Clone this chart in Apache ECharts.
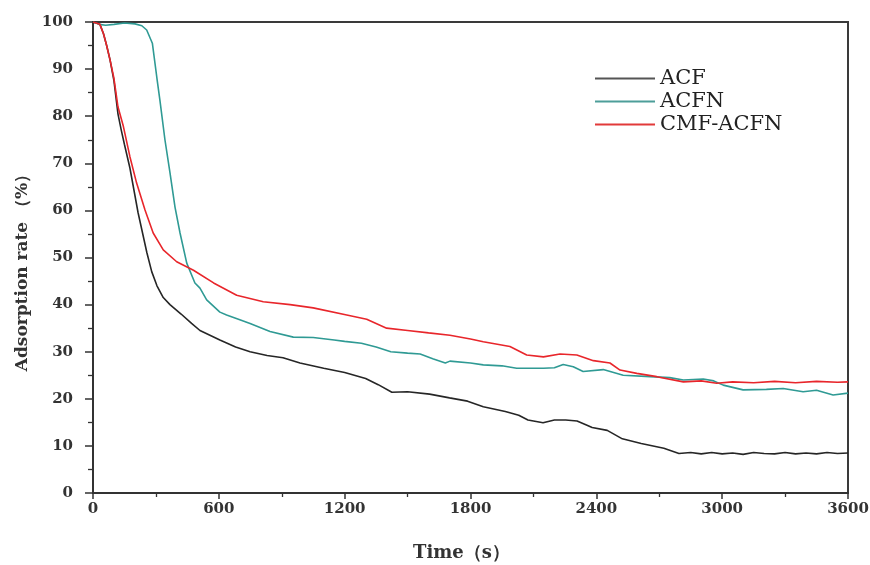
<!DOCTYPE html>
<html>
<head>
<meta charset="utf-8">
<script src="https://cdn.jsdelivr.net/npm/echarts@6/dist/echarts.min.js"></script>
<style>
  html, body { margin: 0; padding: 0; background: #fff; }
  #chart { width: 870px; height: 565px; }
</style>
</head>
<body>
<div id="chart"></div>
<script>
// 读图得到的数据 (time in s, adsorption rate in %)
var acfTime = [0, 33, 50, 65, 81, 100, 119, 135, 150, 176, 215, 257, 280, 305, 335, 367, 420, 470, 510, 605, 680, 749, 830, 906, 987, 1100, 1200, 1300, 1360, 1425, 1500, 1605, 1700, 1786, 1861, 1966, 2030, 2074, 2146, 2200, 2254, 2308, 2350, 2380, 2452, 2524, 2614, 2722, 2794, 2850, 2900, 2950, 3000, 3050, 3100, 3150, 3200, 3250, 3300, 3350, 3400, 3450, 3500, 3550, 3600];
var acfRate = [100, 99.5, 97.5, 95, 92, 87.5, 80.5, 77, 74, 69, 59.5, 51, 47, 44, 41.5, 40, 38, 36, 34.5, 32.5, 31, 30, 29.2, 28.7, 27.6, 26.5, 25.6, 24.3, 23, 21.4, 21.5, 21, 20.2, 19.5, 18.3, 17.3, 16.5, 15.5, 14.9, 15.5, 15.5, 15.3, 14.5, 13.9, 13.3, 11.5, 10.5, 9.5, 8.4, 8.6, 8.3, 8.6, 8.3, 8.5, 8.2, 8.6, 8.4, 8.3, 8.6, 8.3, 8.5, 8.3, 8.6, 8.4, 8.5];

var acfnTime = [0, 30, 60, 100, 150, 200, 233, 256, 283, 305, 319, 343, 367, 391, 415, 447, 486, 510, 542, 605, 637, 700, 749, 844, 955, 1050, 1150, 1200, 1280, 1350, 1420, 1500, 1560, 1620, 1680, 1702, 1800, 1861, 1950, 2020, 2148, 2200, 2242, 2290, 2337, 2433, 2528, 2656, 2750, 2815, 2910, 2960, 3005, 3100, 3211, 3291, 3386, 3450, 3529, 3600];
var acfnRate = [100, 99.5, 99.3, 99.5, 99.8, 99.6, 99.2, 98.3, 95.5, 88, 83.4, 75, 68, 60.7, 55.2, 48.8, 44.6, 43.5, 41, 38.4, 37.8, 36.8, 36, 34.3, 33.1, 33, 32.5, 32.2, 31.8, 31, 30, 29.7, 29.5, 28.5, 27.6, 28, 27.6, 27.2, 27, 26.5, 26.5, 26.6, 27.3, 26.8, 25.8, 26.2, 25, 24.7, 24.5, 24, 24.2, 23.8, 22.9, 21.9, 22, 22.2, 21.5, 21.8, 20.8, 21.2];

var cmfTime = [0, 33, 50, 65, 81, 100, 119, 145, 176, 208, 248, 287, 335, 399, 479, 575, 685, 812, 940, 1050, 1210, 1305, 1400, 1500, 1600, 1702, 1800, 1861, 1988, 2068, 2148, 2227, 2307, 2386, 2465, 2513, 2593, 2688, 2815, 2900, 2974, 3050, 3150, 3250, 3350, 3450, 3550, 3600];
var cmfRate = [100, 99.5, 97.5, 95, 92, 88, 82, 77.8, 71.4, 65.8, 60.1, 55.2, 51.6, 49.1, 47.3, 44.6, 42, 40.6, 40, 39.3, 37.8, 36.9, 35, 34.5, 34, 33.5, 32.7, 32.1, 31.1, 29.3, 28.9, 29.5, 29.3, 28.1, 27.6, 26.1, 25.4, 24.7, 23.6, 23.8, 23.3, 23.6, 23.4, 23.7, 23.4, 23.7, 23.5, 23.6];

var seriesNames = ['ACF', 'ACFN', 'CMF-ACFN'];
var xTicks = [0, 600, 1200, 1800, 2400, 3000, 3600];

function pairs(t, v) {
  var out = [];
  for (var i = 0; i < t.length; i++) out.push([t[i], v[i]]);
  return out;
}

var chart = echarts.init(document.getElementById('chart'), null, { renderer: 'canvas' });

var serif = '"DejaVu Serif", "Liberation Serif", serif';

var option = {
  backgroundColor: '#fff',
  animation: false,
  grid: {
    left: 93, right: 22, top: 22, bottom: 72,
    outerBoundsMode: 'none',
    containLabel: false,
    show: true,
    borderColor: '#3a3a3a',
    borderWidth: 2
  },
  legend: {
    orient: 'vertical',
    left: 590,
    top: 63,
    itemWidth: 60,
    itemHeight: 2,
    itemGap: 2,
    icon: 'rect',
    data: seriesNames,
    textStyle: { fontFamily: serif, fontSize: 21, color: '#222' }
  },
  xAxis: {
    type: 'value',
    min: 0, max: 3600, interval: 600,
    name: 'Time（s）',
    nameLocation: 'middle',
    nameGap: 51,
    nameTextStyle: { fontFamily: serif, fontSize: 18, fontWeight: 'bold', color: '#333', padding: [0, 18, 0, 0] },
    axisLine: { lineStyle: { color: '#333', width: 2 } },
    axisTick: { show: true, length: 6, lineStyle: { color: '#333', width: 1.5 } },
    minorTick: { show: true, splitNumber: 2, length: 4, lineStyle: { color: '#333', width: 1.3 } },
    splitLine: { show: false },
    axisLabel: {
      fontFamily: serif, fontSize: 15, fontWeight: 'bold', color: '#333', margin: 9,
      formatter: function (v) { return xTicks.indexOf(v) >= 0 ? String(v) : ''; }
    }
  },
  yAxis: {
    type: 'value',
    min: 0, max: 100, interval: 10,
    name: 'Adsorption rate （%）',
    nameLocation: 'middle',
    nameGap: 58,
    nameTextStyle: { fontFamily: serif, fontSize: 17, fontWeight: 'bold', color: '#333', padding: [0, 22, 0, 0] },
    axisLine: { show: true, lineStyle: { color: '#333', width: 2 } },
    axisTick: { show: true, length: 8, lineStyle: { color: '#333', width: 1.5 } },
    minorTick: { show: true, splitNumber: 2, length: 5, lineStyle: { color: '#333', width: 1.3 } },
    splitLine: { show: false },
    axisLabel: { fontFamily: serif, fontSize: 15, fontWeight: 'bold', color: '#333', margin: 20 }
  },
  series: [
    {
      name: 'ACF', type: 'line', showSymbol: false, symbol: 'none',
      data: pairs(acfTime, acfRate),
      lineStyle: { color: '#262626', width: 1.6 }, itemStyle: { color: '#555' }
    },
    {
      name: 'ACFN', type: 'line', showSymbol: false, symbol: 'none',
      data: pairs(acfnTime, acfnRate),
      lineStyle: { color: '#2f9a94', width: 1.6 }, itemStyle: { color: '#4d9e99' }
    },
    {
      name: 'CMF-ACFN', type: 'line', showSymbol: false, symbol: 'none',
      data: pairs(cmfTime, cmfRate),
      lineStyle: { color: '#e8262b', width: 1.6 }, itemStyle: { color: '#e23a3a' }
    }
  ]
};

chart.setOption(option);
</script>
</body>
</html>
